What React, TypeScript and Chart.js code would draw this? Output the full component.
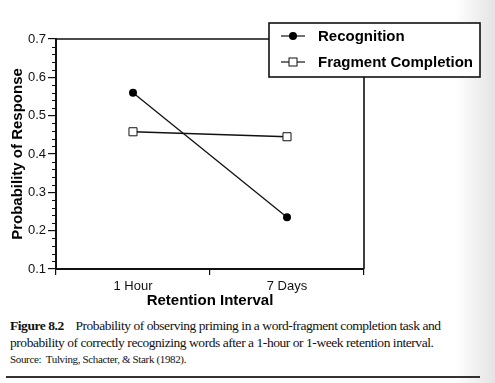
import React, { useEffect, useRef } from 'react';
import { Chart, registerables } from 'chart.js';
Chart.register(...registerables);

const categories = ['1 Hour', '7 Days'];
const recognition = [0.56, 0.235];
const fragmentCompletion = [0.458, 0.445];
const yMin = 0.1;
const yMax = 0.7;
const yMajorStep = 0.1;
const yMinorStep = 0.02;
const legendLabels = ['Recognition', 'Fragment Completion'];
const yTitle = 'Probability of Response';
const xTitle = 'Retention Interval';

const SANS = '"Liberation Sans", Arial, sans-serif';

const framePlugin = {
  id: 'frameAndLegend',
  afterDraw(chart: any) {
    const ctx = chart.ctx;
    const a = chart.chartArea;
    const y = chart.scales.y;
    ctx.save();
    ctx.strokeStyle = '#111';
    ctx.lineWidth = 1.6;
    ctx.beginPath();
    ctx.moveTo(a.left, a.top);
    ctx.lineTo(a.right, a.top);
    ctx.lineTo(a.right, a.bottom);
    ctx.stroke();
    ctx.lineWidth = 1;
    for (let v = yMin; v <= yMax + 1e-9; v += yMinorStep) {
      const r = Math.round(v * 100) % Math.round(yMajorStep * 100);
      if (r === 0) continue;
      const py = Math.round(y.getPixelForValue(v)) + 0.5;
      ctx.beginPath();
      ctx.moveTo(a.left - 4, py);
      ctx.lineTo(a.left, py);
      ctx.stroke();
    }
    const bx = 269, by = 23, bw = 211, bh = 54;
    ctx.fillStyle = '#fff';
    ctx.fillRect(bx, by, bw, bh);
    ctx.lineWidth = 1.6;
    ctx.strokeStyle = '#111';
    ctx.strokeRect(bx, by, bw, bh);
    const rows = [36, 62];
    ctx.font = 'bold 15px ' + SANS;
    ctx.textBaseline = 'middle';
    ctx.textAlign = 'left';
    rows.forEach((ry, i) => {
      ctx.lineWidth = 1.2;
      ctx.strokeStyle = '#111';
      ctx.beginPath();
      ctx.moveTo(281, ry);
      ctx.lineTo(305, ry);
      ctx.stroke();
      if (i === 0) {
        ctx.fillStyle = '#000';
        ctx.beginPath();
        ctx.arc(293, ry, 4, 0, Math.PI * 2);
        ctx.fill();
      } else {
        ctx.fillStyle = '#fff';
        ctx.fillRect(289, ry - 4, 8, 8);
        ctx.lineWidth = 1;
        ctx.strokeRect(289, ry - 4, 8, 8);
      }
      ctx.fillStyle = '#000';
      ctx.fillText(legendLabels[i], 318, ry + 1);
    });
    ctx.restore();
  },
};

export default function App() {
  const ref = useRef<HTMLCanvasElement>(null);
  useEffect(() => {
    if (!ref.current) return;
    const chart = new Chart(ref.current, {
      type: 'line',
      data: {
        labels: categories,
        datasets: [
          {
            label: legendLabels[0],
            data: recognition,
            borderColor: '#111',
            borderWidth: 1.3,
            backgroundColor: '#000',
            pointStyle: 'circle',
            pointRadius: 4,
            pointBorderWidth: 0,
            pointBackgroundColor: '#000',
          },
          {
            label: legendLabels[1],
            data: fragmentCompletion,
            borderColor: '#111',
            borderWidth: 1.3,
            backgroundColor: '#fff',
            pointStyle: 'rect',
            pointRadius: 5.7,
            pointBorderWidth: 1,
            pointBorderColor: '#111',
            pointBackgroundColor: '#fff',
          },
        ],
      },
      options: {
        responsive: false,
        animation: false,
        devicePixelRatio: 1,
        layout: { padding: { top: 39, right: 131, left: 0, bottom: 0 } },
        plugins: { legend: { display: false }, tooltip: { enabled: false } },
        scales: {
          x: {
            type: 'category',
            offset: true,
            grid: { offset: true, drawOnChartArea: false, tickLength: 6, color: '#111', lineWidth: 1.2 },
            border: { display: true, color: '#111', width: 2 },
            ticks: { color: '#111', font: { family: SANS, size: 13 }, padding: 4, maxRotation: 0 },
            title: {
              display: true,
              text: xTitle,
              color: '#000',
              font: { family: SANS, size: 15, weight: 'bold' },
              padding: { top: 0, bottom: 2 },
            },
            afterFit: (s: any) => { s.height = 43; },
          },
          y: {
            min: yMin,
            max: yMax,
            grid: { drawOnChartArea: false, tickLength: 8, color: '#111', lineWidth: 1.2 },
            border: { display: true, color: '#111', width: 2 },
            ticks: {
              stepSize: yMajorStep,
              color: '#111',
              font: { family: SANS, size: 13 },
              padding: 2,
              callback: (v: any) => Number(v).toFixed(1),
            },
            title: {
              display: true,
              text: yTitle,
              color: '#000',
              font: { family: SANS, size: 15, weight: 'bold' },
              padding: { top: 9, bottom: 0 },
            },
            afterFit: (s: any) => { s.width = 56; },
          },
        },
      },
      plugins: [framePlugin],
    });
    return () => chart.destroy();
  }, []);

  const serif = '"Liberation Serif", "Times New Roman", serif';
  return (
    <div
      style={{
        position: 'absolute',
        left: 0,
        top: 0,
        width: 495,
        height: 383,
        overflow: 'hidden',
        background: 'linear-gradient(to right, #fff 0px, #fff 455px, #e4e4e4 495px)',
      }}
    >
      <canvas ref={ref} width={495} height={312} style={{ position: 'absolute', left: 0, top: 0, width: 495, height: 312 }} />
      <div
        style={{
          position: 'absolute',
          left: 10,
          top: 317,
          width: 480,
          fontFamily: serif,
          fontSize: 13.5,
          letterSpacing: '-0.45px',
          lineHeight: '17px',
          color: '#111',
          whiteSpace: 'nowrap',
        }}
      >
        <div>
          <b>Figure 8.2</b>&nbsp;&nbsp;&nbsp; Probability of observing priming in a word-fragment completion task and
        </div>
        <div>probability of correctly recognizing words after a 1-hour or 1-week retention interval.</div>
        <div style={{ fontSize: 11, letterSpacing: '-0.35px', lineHeight: '16px' }}>Source:&nbsp; Tulving, Schacter, &amp; Stark (1982).</div>
      </div>
      <div style={{ position: 'absolute', left: 6, top: 376, width: 474, height: 2, background: '#333' }} />
    </div>
  );
}
